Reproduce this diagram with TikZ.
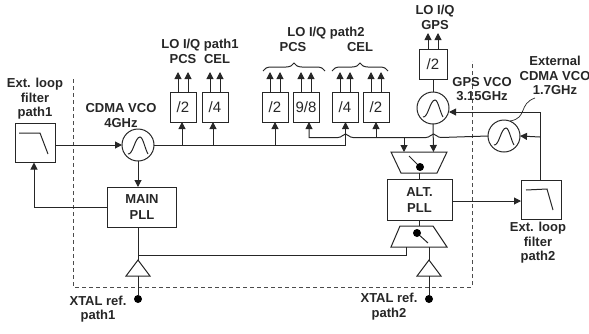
\documentclass[tikz,border=0pt]{standalone}
\usepackage{fontspec}
\setmainfont{Liberation Sans}
\usetikzlibrary{arrows.meta,decorations.pathreplacing}
\tikzset{
  >={Triangle[width=7pt,length=7pt]},
  wire/.style={line width=1pt,draw=black!85},
  lbl/.style={font=\fontsize{13}{14.5}\selectfont\bfseries,align=center,inner sep=0pt,text=black!85},
  divbox/.style={draw=black!85,line width=1pt,minimum width=26pt,minimum height=30pt,inner sep=0pt,outer sep=0pt,font=\fontsize{15}{15}\selectfont,text=black!85},
  pllbox/.style={draw=black!85,line width=1pt,inner sep=0pt,outer sep=0pt,align=center,font=\fontsize{13}{16}\selectfont\bfseries,text=black!85},
  filtbox/.style={draw=black!85,line width=1pt,minimum width=40pt,minimum height=39pt,inner sep=0pt,outer sep=0pt},
  vcocirc/.style={circle,draw=black!85,line width=1pt,minimum size=32pt,inner sep=0pt,outer sep=0pt},
  xdot/.style={circle,fill=black,minimum size=8pt,inner sep=0pt,outer sep=0pt}
}
\newcommand{\vcowave}[1]{\draw[wire,shift={(#1.center)}] (-10,9) .. controls (-5,10) and (-3,-8) .. (2,-8) .. controls (5,-8) and (7,4) .. (10,9);}
\newcommand{\outpair}[1]{\draw[wire,->] ([xshift=-5pt]#1.north) -- ++(0,-20);
\draw[wire,->] ([xshift=5pt]#1.north) -- ++(0,-20);}
\begin{document}
\begin{tikzpicture}[x=1pt,y=-1pt]
\useasboundingbox (0,0) rectangle (589,333);
% enclosure
\draw[wire,draw=black!70,dash pattern=on 4pt off 3pt] (73,79) -- (73,287) -- (472,287) -- (472,61);
% blocks
\node[filtbox] (filta) at (35,143) {};
\node[filtbox] (filtb) at (541,200) {};
\node[vcocirc] (vcoa) at (138,145) {};
\node[vcocirc] (vcog) at (433,108) {};
\node[vcocirc] (vcox) at (504,136) {};
\node[divbox] (diva) at (183,107) {/2};
\node[divbox] (divb) at (215,107) {/4};
\node[divbox] (divc) at (275,107) {/2};
\node[divbox] (divd) at (306,107) {9/8};
\node[divbox] (dive) at (345,107) {/4};
\node[divbox] (divf) at (376,107) {/2};
\node[divbox,minimum width=28pt] (divg) at (433,64) {/2};
\node[pllbox,minimum width=69pt,minimum height=40pt] (pllm) at (142,207) {MAIN\\PLL};
\node[pllbox,minimum width=65pt,minimum height=41pt] (plla) at (419.5,200) {ALT.\\PLL};
\node[xdot] (xtala) at (138,299) {};
\node[xdot] (xtalb) at (429,299) {};
\vcowave{vcoa}
\vcowave{vcog}
\vcowave{vcox}
\draw[wire,shift={(filta.center)}] (-16,-10) -- (5,-10) -- (13,11);
\draw[wire,shift={(filtb.center)}] (-15,-10) -- (6,-11) -- (12,10);
% multiplexers
\draw[wire] (391,152) -- (447,152) -- (437,173) -- (401,173) -- cycle;
\draw[wire] (400,226) -- (433,226) -- (447,247) -- (391,247) -- cycle;
\node[xdot] (swa) at (420,167) {};
\coordinate (swat) at (409,156);
\node[xdot] (swb) at (417,233) {};
\coordinate (swbt) at (428,243);
\draw[wire] (swa) -- (swat);
\draw[wire] (swb) -- (swbt);
\coordinate (muxat) at (419.5,173);
\coordinate (muxbt) at (419.5,226);
\draw[wire] (muxat) -- (plla.north);
\draw[wire] (plla.south) -- (muxbt);
% buffers
\draw[wire] (138,260) -- (150,276) -- (126,276) -- cycle;
\draw[wire] (429,260) -- (441,276) -- (417,276) -- cycle;
\coordinate (bufat) at (138,260);
\coordinate (bufab) at (138,276);
\coordinate (bufbt) at (429,260);
\coordinate (bufbb) at (429,276);
\coordinate (muxbb) at (429,247);
\coordinate (muxbl) at (406,247);
\draw[wire] (xtala) -- (bufab);
\draw[wire] (xtalb) -- (bufbb);
\draw[wire] (muxbb) -- (bufbt);
\draw[wire] (138,227) -- (bufat);
\draw[wire] (138,255) -| (muxbl);
% main path
\draw[wire,->] (filta.east |- vcoa) -- (vcoa.west);
\draw[wire,->] (vcoa.south) -- (vcoa.south |- pllm.north);
\draw[wire,->] (pllm.west) -| (filta.south -| 34,0);
\draw[wire] (vcoa.east) -- (345.5,145);
\draw[wire,->] (345.5,145) -- (345.5,122);
\draw[wire,->] (182,145) -- (182,122);
\draw[wire,->] (213,145) -- (213,122);
\draw[wire,->] (275,145) -- (275,122);
% second bus with hops
\draw[wire,->] (vcox.west) -- (441,137.5) .. controls (437,137.5) and (436,134) .. (433.5,134) .. controls (431,134) and (430,137.5) .. (426,137.5)
  -- (353,137.5) .. controls (349,137.5) and (348,134) .. (345.5,134) .. controls (343,134) and (342,137.5) .. (338,137.5)
  -- (309,137.5) -- (309,122);
\draw[wire,->] (376,137.5) -- (376,122);
\draw[wire,->] (404,137.5) -- (404,152);
\draw[wire,->] (vcog.south) -- (433.5,152);
\draw[wire] (divg.south) -- (vcog.north);
% external loop
\draw[wire,->] (filtb.north -| 540,0) -- (540,112) -- (449,112);
\draw[wire,->] (540,137) -- (vcox.east);
\draw[wire,->] (plla.east |- 0,201) -- (filtb.west |- 0,201);
% outputs
\outpair{diva}
\outpair{divb}
\outpair{divc}
\outpair{divd}
\outpair{dive}
\outpair{divf}
\draw[wire,->] (428,49) -- (428,33);
\draw[wire,->] (438,49) -- (438,33);
% braces
\draw[wire,decorate,decoration={brace,amplitude=8pt,aspect=0.5}] (263,71) -- (325,71);
\draw[wire,decorate,decoration={brace,amplitude=8pt,aspect=0.5}] (332,71) -- (388,71);
% squiggle
\draw[wire,line width=0.7pt] (510,121) .. controls (528,118) and (518,104) .. (535,98);
% labels
\node[lbl] (lfilta) at (35,99) {Ext. loop\\filter\\path1};
\node[lbl] (lfiltb) at (538,243) {Ext. loop\\filter\\path2};
\node[lbl] (lvcoa) at (121,115.5) {CDMA VCO\\4GHz};
\node[lbl] (lloa) at (200,45) {LO I/Q path1};
\node[lbl] (lpcsa) at (183,59) {PCS};
\node[lbl] (lcela) at (217,59) {CEL};
\node[lbl] (llob) at (326,33) {LO I/Q path2};
\node[lbl] (lpcsb) at (293,47) {PCS};
\node[lbl] (lcelb) at (360,47) {CEL};
\node[lbl] (llog) at (435,17.5) {LO I/Q\\GPS};
\node[lbl] (lvcog) at (482,89) {GPS VCO\\3.15GHz};
\node[lbl] (lvcox) at (555,75.5) {External\\CDMA VCO\\1.7GHz};
\node[lbl] (lxtala) at (98,309) {XTAL ref.\\path1};
\node[lbl] (lxtalb) at (389,306.5) {XTAL ref.\\path2};
\end{tikzpicture}
\end{document}
